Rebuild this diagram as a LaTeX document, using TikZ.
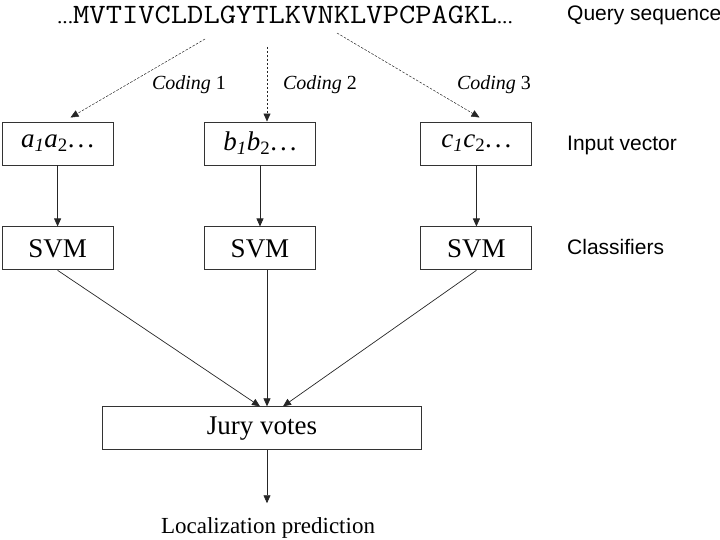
\documentclass[tikz,border=0pt]{standalone}
\usepackage{fontspec}
\usepackage{graphicx}
\setmainfont{Liberation Serif}
\newfontfamily\labelfont{Liberation Sans}
\usetikzlibrary{arrows.meta,positioning,calc}

\newcommand{\seqdots}{{\rmfamily\fontsize{19}{19}\selectfont ...}}
\newcommand{\vecdots}{.\kern3pt.\kern3pt.}

\begin{document}
\begin{tikzpicture}[
  x=1pt, y=-1pt,
  arrow/.style={-{Triangle[length=8pt,width=7pt]}, line width=0.7pt, draw=black!85},
  coding/.style={arrow, line width=0.5pt, dash pattern=on 2.5pt off 1.5pt},
  box/.style={draw=black!80, line width=0.9pt, minimum width=111pt,
    minimum height=43pt, inner sep=2pt, font=\fontsize{27}{30}\selectfont},
  rowlabel/.style={anchor=west, inner sep=0pt,
    font=\labelfont\fontsize{21}{24}\selectfont},
  codelabel/.style={inner sep=0pt, font=\fontsize{20}{22}\selectfont}
]
\useasboundingbox (0,0) rectangle (720,540);

\node[inner sep=0pt, font=\ttfamily\fontsize{28}{30}\selectfont] (seq) at (285,15)
  {\scalebox{1.13}[1]{\seqdots MVTIVCLDLGYTLKVNKLVPCPAGKL\seqdots}};
\node[rowlabel] (querylab) at (567,15) {Query sequence};

\node[box] (vecb) at (260,143.5)
  {\textit{b}\textsubscript{\textit{1}}\textit{b}\textsubscript{2}\vecdots};
\node[box, left=90.5pt of vecb] (veca)
  {\textit{a}\textsubscript{\textit{1}}\textit{a}\textsubscript{2}\vecdots};
\node[box, right=104.5pt of vecb] (vecc)
  {\textit{c}\textsubscript{\textit{1}}\textit{c}\textsubscript{2}\vecdots};
\node[rowlabel] (inputlab) at (567,145) {Input vector};

\node[box, below=61pt of vecb] (svmb) {SVM};
\node[box, below=61pt of veca] (svma) {SVM};
\node[box, below=61pt of vecc] (svmc) {SVM};
\node[rowlabel] (classlab) at (567,247) {Classifiers};

\node[box, minimum width=319pt, below=136pt of svmb, xshift=2pt] (jury) {Jury votes};
\node[inner sep=0pt, font=\fontsize{23}{26}\selectfont, below=67pt of jury, xshift=6pt]
  (loc) {Localization prediction};

% codings of the query sequence
\coordinate (from1) at (205,39);
\coordinate (from2) at (267,47);
\coordinate (from3) at (337,33);
\node[codelabel] (code1) at (189,85) {\textit{Coding} 1};
\node[codelabel] (code2) at (320,85) {\textit{Coding} 2};
\node[codelabel] (code3) at (494,85) {\textit{Coding} 3};

\draw[coding, shorten >=8pt] (from1) -- ([xshift=6pt]veca.north);
\draw[coding] (from2) -- ([xshift=7pt]vecb.north);
\draw[coding, shorten >=8pt] (from3) -- ([xshift=10pt]vecc.north);

\draw[arrow] (veca) -- (svma);
\draw[arrow] (vecb) -- (svmb);
\draw[arrow] (vecc) -- (svmc);

\draw[arrow] (svma.south) -- ([xshift=-2pt]jury.north);
\draw[arrow] ([xshift=7pt]svmb.south) -- ([xshift=7pt]svmb.south |- jury.north);
\draw[arrow] (svmc.south) -- ([xshift=21pt]jury.north);

\draw[arrow, shorten >=14pt] ([xshift=5pt]jury.south) -- ([xshift=5pt]jury.south |- loc.north);

\end{tikzpicture}
\end{document}
